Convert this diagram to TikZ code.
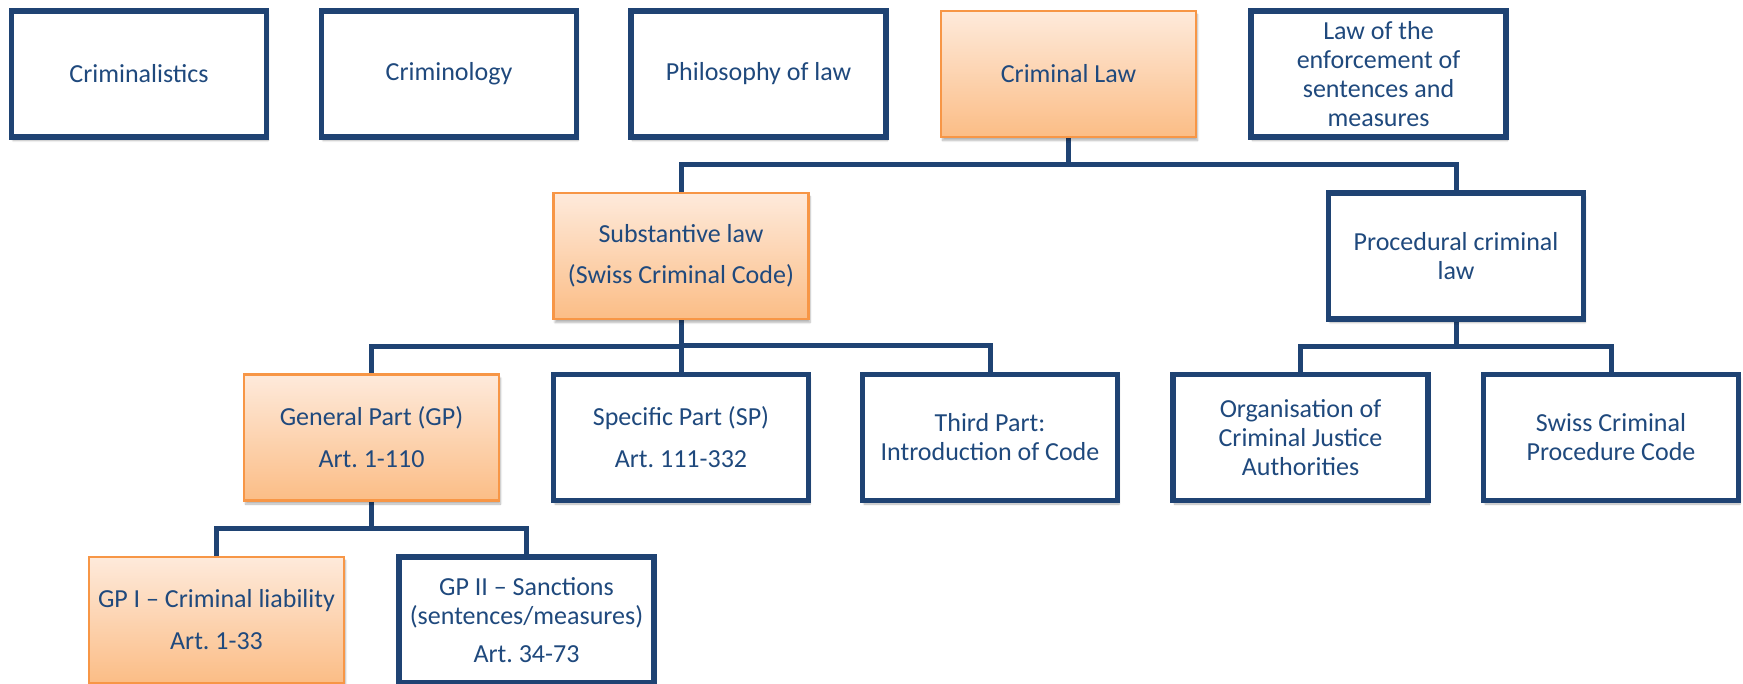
\documentclass[tikz,border=0pt]{standalone}
\usepackage{fontspec}
\setmainfont{Carlito}
\usetikzlibrary{calc,backgrounds,shadows.blur}
\definecolor{txt}{HTML}{1F497D}
\definecolor{bord}{HTML}{1F4373}
\definecolor{orgtop}{HTML}{FEEADB}
\definecolor{orgbot}{HTML}{FBBD86}
\definecolor{orgline}{HTML}{F79646}
\tikzset{
  box/.style={rectangle, minimum width=255pt, minimum height=126pt, align=center,
    text=txt, font=\fontsize{26}{29}\selectfont\frenchspacing, inner sep=2pt,
    blur shadow={shadow xshift=1.5pt, shadow yshift=-3.5pt, shadow blur steps=6, shadow opacity=30}},
  bluebox/.style={box, draw=bord, line width=5.5pt, fill=white},
  orangebox/.style={box, draw=orgline, line width=2.5pt, top color=orgtop, bottom color=orgbot},
  conn/.style={draw=bord, line width=5pt},
}
\begin{document}
\frenchspacing
\begin{tikzpicture}[x=1pt, y=-1pt]
\useasboundingbox (0,0) rectangle (1743,684);
% level 1
\node[bluebox] (cl) at (139,74) {Criminalistics};
\node[bluebox] (cg) at (449,74) {Criminology};
\node[bluebox] (ph) at (758.5,74) {Philosophy of law};
\node[orangebox] (crim) at (1068.5,74) {Criminal Law};
\node[bluebox] (enf) at (1378.5,74) {Law of the\\enforcement of\\sentences and\\measures};
% level 2
\node[orangebox] (sub) at (681,256) {Substantive law\\[12pt](Swiss Criminal Code)};
\node[bluebox] (proc) at (1456,256) {Procedural criminal\\law};
% level 3
\node[orangebox] (gp) at (371.5,437.5) {General Part (GP)\\[13pt]Art. 1-110};
\node[bluebox] (sp) at (681,437.5) {Specific Part (SP)\\[13pt]Art. 111-332};
\node[bluebox] (tp) at (990,437.5) {Third Part:\\Introduction of Code};
\node[bluebox] (org) at (1300.5,437.5) {Organisation of\\Criminal Justice\\Authorities};
\node[bluebox] (cpc) at (1611,437.5) {Swiss Criminal\\Procedure Code};
% level 4
\node[orangebox] (gp1) at (216.5,620) {GP I – Criminal liability\\[13pt]Art. 1-33};
\node[bluebox] (gp2) at (526.5,620) {GP II – Sanctions\\(sentences/measures)\\[9pt]Art. 34-73};
% connectors
\begin{scope}[on background layer]
\foreach \a/\b in {crim/sub, crim/proc, sub/gp, sub/sp, sub/tp, proc/org, proc/cpc, gp/gp1, gp/gp2}{
  \draw[conn] (\a.south) |- ($(\a.south)!.5!(\b.north)$) -| (\b.north);
}
\end{scope}
\end{tikzpicture}
\end{document}
